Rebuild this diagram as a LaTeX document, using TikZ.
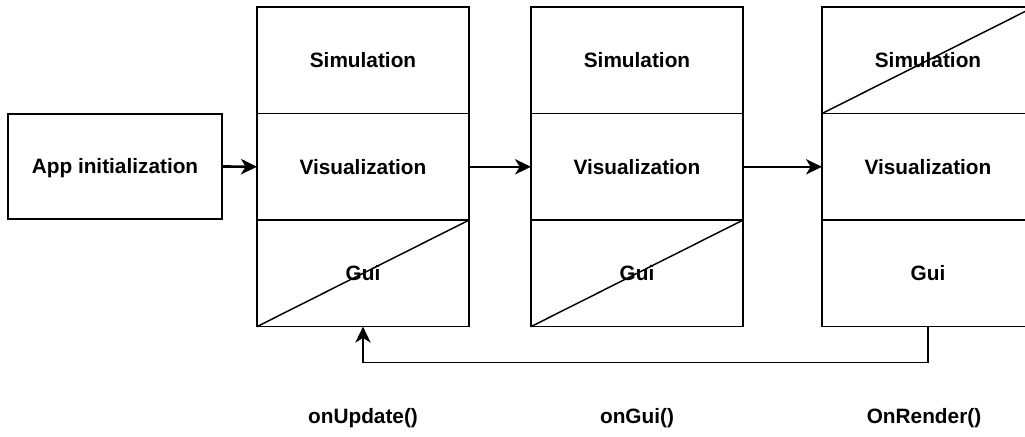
\documentclass[tikz,border=0pt]{standalone}
\usepackage{fontspec}
\setmainfont{Liberation Sans}
\usetikzlibrary{arrows.meta}
\usetikzlibrary{positioning}

\tikzset{
  box/.style={draw, line width=1.1pt, outer sep=0pt, inner sep=0pt,
    minimum width=159pt, minimum height=79.9pt,
    text height=12pt, text depth=1pt,
    font=\bfseries\fontsize{15.6}{18}\selectfont},
  lbl/.style={font=\bfseries\fontsize{15.6}{18}\selectfont},
  link/.style={line width=1.1pt, -{Stealth[length=12pt, width=11.5pt, inset=3.5pt]}},
}

\begin{document}
\begin{tikzpicture}[x=0.75pt, y=-0.75pt]

\clip (0,0) rectangle (1025,436);

\node[box, minimum width=160.5pt, minimum height=78.8pt] (app) at (115,166.5) {App initialization};

\node[box, anchor=north west] (sim1) at (257,7) {Simulation};
\node[box, below=0pt of sim1] (vis1) {Visualization};
\node[box, below=0pt of vis1] (gui1) {Gui};

\node[box, anchor=north west] (sim2) at (531,7) {Simulation};
\node[box, below=0pt of sim2] (vis2) {Visualization};
\node[box, below=0pt of vis2] (gui2) {Gui};

\node[box, anchor=north west] (sim3) at (822,7) {Simulation};
\node[box, below=0pt of sim3] (vis3) {Visualization};
\node[box, below=0pt of vis3] (gui3) {Gui};

\draw[line width=1.1pt] (gui1.south west) -- (gui1.north east);
\draw[line width=1.1pt] (gui2.south west) -- (gui2.north east);
\draw[line width=1.1pt] (sim3.south west) -- (sim3.north east);

\draw[link, line width=2pt] (app.east) -- (vis1.west);
\draw[link] (vis1.east) -- (vis2.west);
\draw[link] (vis2.east) -- (vis3.west);
\draw[link] (gui3.south) -- ++(0,36) -| (gui1.south);

\node[lbl] (upd) at (363,418) {onUpdate()};
\node[lbl] (ongui) at (637,418) {onGui()};
\node[lbl] (render) at (924,418) {OnRender()};

\end{tikzpicture}
\end{document}
